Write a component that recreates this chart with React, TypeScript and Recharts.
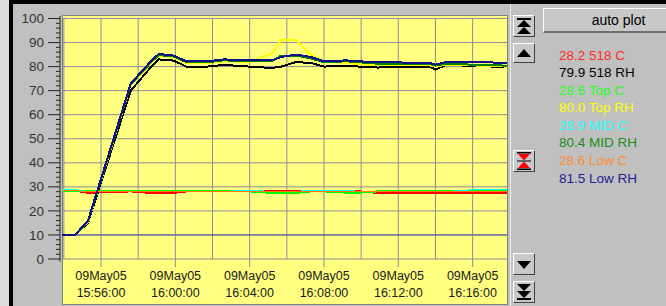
import { CartesianGrid, Line, LineChart, ReferenceLine, XAxis, YAxis } from "recharts";

const DATE_LABEL = "09May05";

// sample times, minutes past 15:00
const TIMES = [
  53.9, 54.6, 55.3, 57.6, 58.6, 59.1, 59.9, 60.6, 61.7, 62.6, 64.0, 65.2, 65.7,
  66.5, 67.3, 68.0, 69.2, 69.9, 70.9, 72.1, 72.5, 73.7, 74.0, 74.6, 76.0, 77.85,
];

const S518_C = [
  28.4, 28.4, 27.5, 28.1, 27.5, 27.5, 27.5, 28.1, 28.1, 28.1, 28.1, 28.1, 28.1,
  28.1, 28.1, 28.1, 28.1, 28.1, 27.5, 27.5, 27.5, 27.5, 27.5, 27.5, 27.5, 27.5,
];
const S518_RH = [
  10, 10, 15, 70, 79, 83, 82.5, 80, 80, 80.7, 80, 79.4, 80,
  81.9, 81.5, 80, 80.4, 80, 79.6, 80, 80, 80, 78.8, 80.8, 80.2, 79.9,
];
const TOP_C = [
  28.4, 28.4, 28.1, 28.1, 28.1, 28.1, 28.1, 28.1, 28.1, 28.1, 28.1, 27.5, 27.5,
  27.5, 28.1, 28.1, 27.6, 27.6, 28.1, 28.1, 28.1, 28.1, 28.1, 28.1, 28.1, 28.1,
];
const TOP_RH = [
  10, 10, 15.4, 72.4, 80.6, 84.5, 84, 81.5, 81.5, 82.2, 82, 85.5, 91,
  91, 85, 82, 81.6, 81, 80.6, 80.5, 80.6, 80.5, 80, 80.8, 80.5, 80.0,
];
const MID_C = [
  28.8, 28.8, 28.1, 28.1, 28.1, 28.1, 28.1, 28.1, 28.1, 28.1, 28.6, 28.1, 28.1,
  28.1, 28.6, 28.6, 28.6, 28.1, 28.1, 28.1, 28.1, 28.1, 28.1, 28.1, 28.8, 28.9,
];
const MID_RH = [
  10, 10, 15.6, 72.6, 81, 84.8, 84.2, 81.8, 81.8, 82.6, 82.2, 82.4, 84.6,
  84.6, 83.4, 81.8, 82.2, 81.8, 81.2, 81.2, 81, 81, 80.4, 81.2, 80.8, 80.4,
];
const LOW_C = [
  28.4, 28.4, 28.1, 28.1, 28.1, 28.1, 28.1, 28.1, 28.1, 28.1, 28.1, 28.1, 28.1,
  28.1, 28.1, 28.1, 28.1, 28.1, 28.1, 28.1, 28.1, 28.1, 28.1, 28.1, 28.1, 28.1,
];
const LOW_RH = [
  10, 10, 16, 73, 81.5, 85.3, 84.6, 82.2, 82.2, 83, 82.6, 82.6, 84,
  85, 84, 82.2, 82.6, 82.2, 81.8, 81.8, 81.4, 81.5, 80.8, 82, 82, 81.5,
];

// current readings shown at the right
const NAMES = ["518 C", "518 RH", "Top C", "Top RH", "MID C", "MID RH", "Low C", "Low RH"];
const READINGS = [28.2, 79.9, 28.6, 80.0, 28.9, 80.4, 28.6, 81.5];

const X_LABEL_TICKS = [56, 60, 64, 68, 72, 76];
const X_GRID = [54, 56, 58, 60, 62, 64, 66, 68, 70, 72, 74, 76];
const Y_GRID = [0, 10, 20, 30, 40, 50, 60, 70, 80, 90, 100];
const Y_TICKS = Array.from({ length: 51 }, (_, i) => i * 2);

const SERIES = [
  { key: "s518c", values: S518_C, color: "#ff0000", legend: "#ff2a2a", width: 2 },
  { key: "s518rh", values: S518_RH, color: "#000000", legend: "#000000", width: 2 },
  { key: "topc", values: TOP_C, color: "#00ff00", legend: "#22ff22", width: 2 },
  { key: "toprh", values: TOP_RH, color: "#ffff00", legend: "#ffff00", width: 2 },
  { key: "midc", values: MID_C, color: "#00ffff", legend: "#22ffff", width: 1 },
  { key: "midrh", values: MID_RH, color: "#008000", legend: "#1a8c1a", width: 2 },
  { key: "lowc", values: LOW_C, color: "#ff8000", legend: "#ff8a30", width: 1 },
  { key: "lowrh", values: LOW_RH, color: "#10108c", legend: "#1c1c94", width: 2 },
];

const data = TIMES.map((t, i) => {
  const row: Record<string, number> = { t };
  SERIES.forEach((s) => (row[s.key] = s.values[i]));
  return row;
});

const GRID = "#8c8c9c";
const FONT = "'Liberation Sans', Arial, sans-serif";

function fmtTime(t: number) {
  const h = 15 + Math.floor(t / 60);
  const m = Math.round(t % 60);
  return `${h}:${String(m).padStart(2, "0")}:00`;
}

function XTick({ x, y, payload }: any) {
  return (
    <g>
      <line x1={x} x2={x} y1={y} y2={y + 8} stroke={GRID} />
      <text x={x} y={y + 20.5} textAnchor="middle" fontSize={12.5} fill="#1a1a1a" fontFamily={FONT}>
        {DATE_LABEL}
      </text>
      <text x={x} y={y + 37.5} textAnchor="middle" fontSize={12.5} fill="#1a1a1a" fontFamily={FONT}>
        {fmtTime(payload.value)}
      </text>
    </g>
  );
}

function YTick({ x, y, payload }: any) {
  const v = payload.value;
  const major = v % 10 === 0;
  return (
    <g>
      <line x1={x - 2} x2={x - 2} y1={y - 2.5} y2={y + 2.5} stroke="#222" />
      <line x1={x - (major ? 14 : 6)} x2={x - 2} y1={y} y2={y} stroke="#222" />
      {major && (
        <text x={x - 18} y={y} dy={4.6} textAnchor="end" fontSize={13.5} fill="#333" fontFamily={FONT}>
          {v}
        </text>
      )}
    </g>
  );
}

function Btn({ top, height, children }: any) {
  return (
    <div
      style={{
        position: "absolute",
        left: 513,
        top,
        width: 22,
        height,
        boxSizing: "border-box",
        background: "#c8c8c8",
        borderTop: "1px solid #ffffff",
        borderLeft: "1px solid #ffffff",
        borderRight: "1px solid #404040",
        borderBottom: "1px solid #404040",
      }}
    >
      <svg width={20} height={height - 2} viewBox={`0 0 20 ${height - 2}`} style={{ display: "block" }}>
        {children}
      </svg>
    </div>
  );
}

export default function App() {
  return (
    <div
      style={{
        position: "fixed",
        left: 0,
        top: 0,
        width: 666,
        height: 306,
        overflow: "hidden",
        background: "#c0c0c0",
        fontFamily: FONT,
      }}
    >
      <div style={{ position: "absolute", left: 0, top: 0, width: 9, height: 306, background: "#dcdcdc" }} />
      <div style={{ position: "absolute", left: 9, top: 0, width: 657, height: 4, background: "#000" }} />
      <div style={{ position: "absolute", left: 9, top: 0, width: 4, height: 306, background: "#000" }} />
      <div style={{ position: "absolute", left: 510, top: 4, width: 1, height: 302, background: "#ececec" }} />
      <div
        style={{
          position: "absolute",
          left: 62,
          top: 15,
          width: 446,
          height: 290,
          boxSizing: "border-box",
          background: "#ffff80",
          border: "1px solid #808080",
        }}
      />

      <div style={{ position: "absolute", left: 0, top: 0 }}>
        <LineChart width={666} height={306} data={data} margin={{ top: 18.5, right: 159, bottom: 0, left: 0 }}>
          <CartesianGrid stroke={GRID} horizontalValues={Y_GRID} verticalValues={X_GRID} />
          <XAxis
            dataKey="t"
            type="number"
            domain={[53.9, 77.85]}
            allowDataOverflow
            ticks={X_LABEL_TICKS}
            tick={<XTick />}
            tickLine={false}
            axisLine={false}
            tickSize={0}
            tickMargin={0}
            height={47}
            interval={0}
          />
          <YAxis
            type="number"
            domain={[0, 100]}
            ticks={Y_TICKS}
            tick={<YTick />}
            tickLine={false}
            axisLine={false}
            tickSize={0}
            tickMargin={0}
            width={62}
            interval={0}
          />
          <ReferenceLine y={10} stroke="#5050a8" />
          {SERIES.map((s) => (
            <Line
              key={s.key}
              type="linear"
              dataKey={s.key}
              stroke={s.color}
              strokeWidth={s.width}
              shapeRendering="crispEdges"
              dot={false}
              activeDot={false}
              isAnimationActive={false}
            />
          ))}
        </LineChart>
      </div>

      <Btn top={15} height={22}>
        <rect x={3} y={2} width={14} height={2} fill="#000" />
        <polygon points="3,11 10,4 17,11" fill="#000" />
        <polygon points="3,18 10,11 17,18" fill="#000" />
      </Btn>
      <Btn top={43} height={20}>
        <polygon points="3,13 10,5 17,13" fill="#000" />
      </Btn>
      <Btn top={150} height={22}>
        <rect x={3} y={1} width={14} height={1.5} fill="#000" />
        <polygon points="4,3 16,3 10,9.5" fill="#ff0000" />
        <rect x={3} y={9.5} width={14} height={1} fill="#000" />
        <polygon points="4,17 16,17 10,10.5" fill="#ff0000" />
        <rect x={3} y={17.5} width={14} height={1.5} fill="#000" />
      </Btn>
      <Btn top={253} height={22}>
        <polygon points="3,7 17,7 10,15" fill="#000" />
      </Btn>
      <Btn top={281} height={22}>
        <polygon points="3,2 17,2 10,9" fill="#000" />
        <polygon points="3,9 17,9 10,16" fill="#000" />
        <rect x={3} y={16} width={14} height={2} fill="#000" />
      </Btn>

      <div
        style={{
          position: "absolute",
          left: 543,
          top: 8,
          width: 150,
          height: 25,
          boxSizing: "border-box",
          background: "#c8c8c8",
          borderTop: "1px solid #ffffff",
          borderLeft: "1px solid #ffffff",
          borderBottom: "2px solid #707070",
          fontSize: 14,
          lineHeight: "22px",
          textAlign: "center",
          color: "#000",
        }}
      >
        auto plot
      </div>

      <div style={{ position: "absolute", left: 559, top: 46.5, fontSize: 13.5, lineHeight: "17.6px" }}>
        {SERIES.map((s, i) => (
          <div key={s.key} style={{ color: s.legend, whiteSpace: "nowrap" }}>
            {`${READINGS[i].toFixed(1)} ${NAMES[i]}`}
          </div>
        ))}
      </div>
    </div>
  );
}
